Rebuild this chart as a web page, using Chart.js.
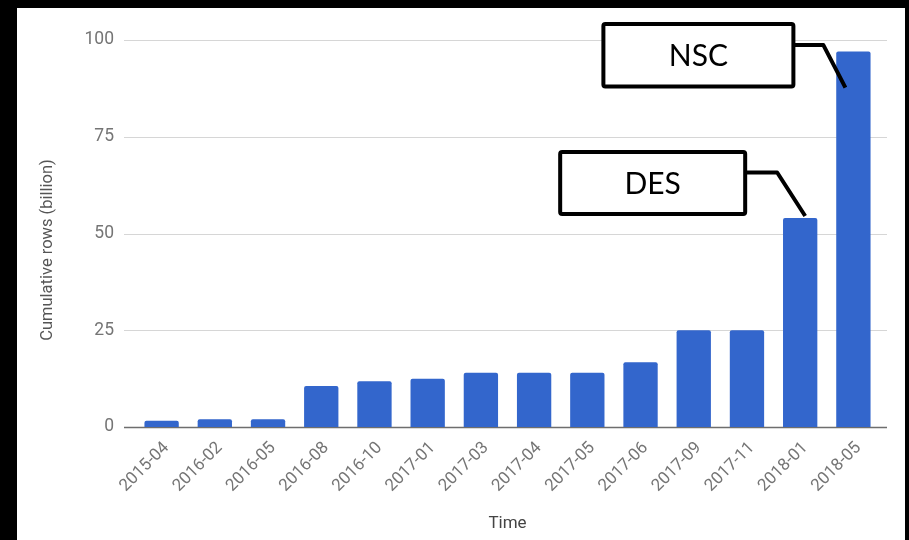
<!DOCTYPE html>
<html>
<head>
<meta charset="utf-8">
<script src="https://cdn.jsdelivr.net/npm/chart.js@4"></script>
<style>
    html, body { margin: 0; padding: 0; background: #000; width: 909px; height: 540px; overflow: hidden; }
    #wrap { position: absolute; left: 17px; top: 8px; width: 888px; height: 532px; background: #fff; }
</style>
</head>
<body>
<div id="wrap"><canvas id="rowsChart" width="888" height="532"></canvas></div>
<script>
// monthly snapshots of cumulative rows
var months = ['2015-04', '2016-02', '2016-05', '2016-08', '2016-10', '2017-01', '2017-03',
    '2017-04', '2017-05', '2017-06', '2017-09', '2017-11', '2018-01', '2018-05'];
var rowsBillion = [1.6, 2.0, 2.0, 10.6, 11.8, 12.5, 14.0, 14.0, 14.0, 16.7, 25.0, 25.0, 54, 97];
var yTicks = [0, 25, 50, 75, 100];
var yTitle = 'Cumulative rows (billion)';

// survey releases marked on the chart
var calloutLabels = ['DES', 'NSC'];
var calloutMonths = ['2018-01', '2018-05'];

// box and leader offsets from the top of the bar
var calloutShapes = {
    'DES': { box: [-240, -66, 185, 62], leader: [[-55, -45.5], [-23, -45.5], [5, -2]] },
    'NSC': { box: [-250, -27.5, 190, 62.5], leader: [[-60, -6.5], [-30, -6.5], [-8, 36]] }
};

var gridPlugin = {
    id: 'gridLines',
    beforeDatasetsDraw: function(chart) {
        var ctx = chart.ctx;
        var y = chart.scales.y;
        var area = chart.chartArea;
        ctx.save();
        y.ticks.forEach(function(t) {
            var py = Math.round(y.getPixelForValue(t.value));
            ctx.beginPath();
            if (t.value === 0) {
                ctx.strokeStyle = '#6e6e6e';
                ctx.lineWidth = 1.6;
            } else {
                ctx.strokeStyle = '#d6d6d6';
                ctx.lineWidth = 1.2;
            }
            ctx.moveTo(area.left - 11, py + 0.5);
            ctx.lineTo(area.right + 7, py + 0.5);
            ctx.stroke();
        });
        // vertical axis title, sitting a little below the middle of the axis
        ctx.translate(31, area.bottom - 177);
        ctx.rotate(-Math.PI / 2);
        ctx.fillStyle = '#555';
        ctx.font = '16.5px Roboto';
        ctx.textAlign = 'center';
        ctx.textBaseline = 'middle';
        ctx.fillText(yTitle, 0, 0);
        ctx.restore();
    }
};

var calloutPlugin = {
    id: 'callouts',
    afterDatasetsDraw: function(chart) {
        var ctx = chart.ctx;
        var bars = chart.getDatasetMeta(0).data;
        ctx.save();
        calloutLabels.forEach(function(label, i) {
            var bar = bars[months.indexOf(calloutMonths[i])];
            var s = calloutShapes[label];
            var bx = bar.x + s.box[0], by = bar.y + s.box[1];
            ctx.lineWidth = 4;
            ctx.strokeStyle = '#000';
            ctx.lineJoin = 'round';
            ctx.fillStyle = '#fff';
            ctx.beginPath();
            ctx.roundRect(bx, by, s.box[2], s.box[3], 2);
            ctx.fill();
            ctx.stroke();
            ctx.beginPath();
            ctx.moveTo(bx + s.box[2], bar.y + s.leader[0][1]);
            ctx.lineTo(bar.x + s.leader[1][0], bar.y + s.leader[1][1]);
            ctx.lineTo(bar.x + s.leader[2][0], bar.y + s.leader[2][1]);
            ctx.stroke();
            ctx.fillStyle = '#000';
            ctx.font = '30px Lato';
            ctx.textAlign = 'center';
            ctx.textBaseline = 'middle';
            ctx.fillText(label, bx + s.box[2] / 2, by + s.box[3] / 2 + 1);
        });
        ctx.restore();
    }
};

var rowsChart = new Chart(document.getElementById('rowsChart'), {
    type: 'bar',
    data: {
        labels: months,
        datasets: [{
            data: rowsBillion,
            backgroundColor: '#3366cc',
            borderRadius: 2,
            borderSkipped: 'bottom',
            barPercentage: 0.645,
            categoryPercentage: 1
        }]
    },
    options: {
        responsive: false,
        animation: false,
        layout: { padding: { top: 32, right: 25, left: 0, bottom: 0 } },
        plugins: { legend: { display: false }, tooltip: { enabled: false } },
        scales: {
            x: {
                afterFit: function(s) { s.height = 113; },
                grid: { display: false },
                border: { display: false },
                ticks: {
                    autoSkip: false,
                    minRotation: 45,
                    maxRotation: 45,
                    padding: 3,
                    labelOffset: 5,
                    color: '#757575',
                    font: { family: 'Roboto', size: 17 }
                },
                title: {
                    display: true,
                    text: 'Time',
                    color: '#444',
                    font: { family: 'Roboto', size: 17 },
                    padding: { top: 6, bottom: 6 }
                }
            },
            y: {
                min: 0,
                max: 100,
                afterFit: function(s) { s.width = 118; },
                afterBuildTicks: function(s) {
                    s.ticks = yTicks.map(function(v) { return { value: v }; });
                },
                grid: { display: false },
                border: { display: false },
                ticks: {
                    padding: 13,
                    color: '#757575',
                    font: { family: 'Roboto', size: 17.5 }
                }
            }
        }
    },
    plugins: [gridPlugin, calloutPlugin]
});
</script>
</body>
</html>
